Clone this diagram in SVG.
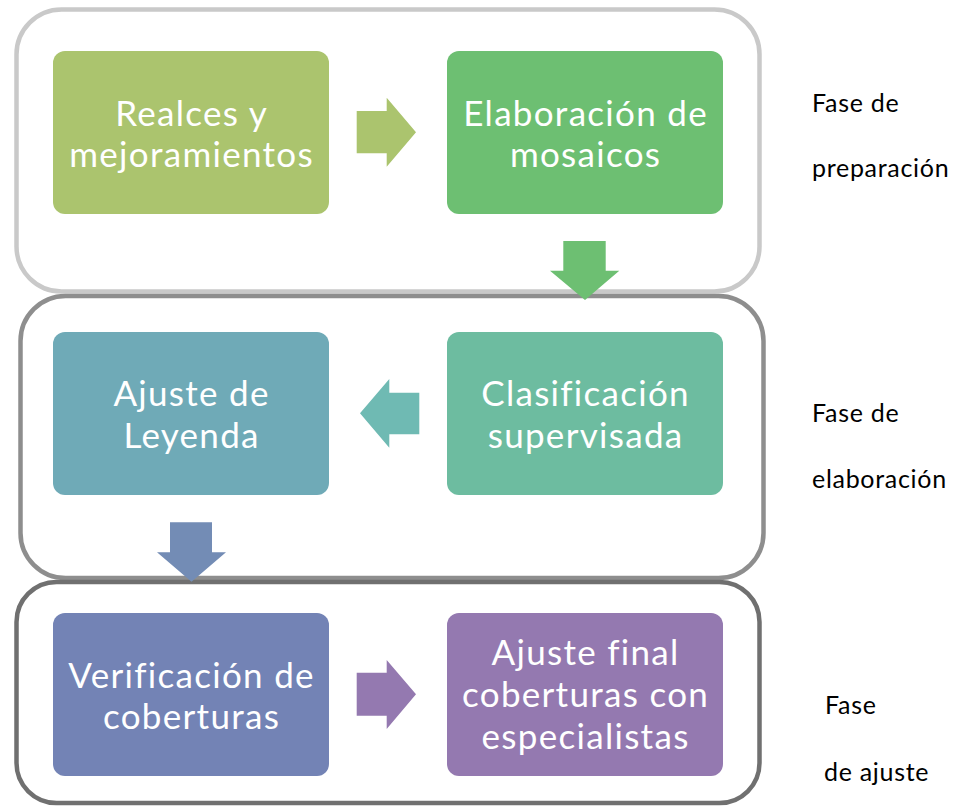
<svg xmlns="http://www.w3.org/2000/svg" width="955" height="806" viewBox="0 0 955 806">
<style>
.phase{fill:#ffffff;stroke-width:4.5}
.node{stroke:none}
.nt{font-family:Lato,"Open Sans",sans-serif;font-size:35px;letter-spacing:1.3px;fill:#ffffff;text-anchor:middle}
.lbl{font-family:Lato,"Open Sans",sans-serif;font-size:25px;letter-spacing:0.7px;fill:#000000}
</style>
<rect width="955" height="806" fill="#ffffff"/>
<g id="phases">
<rect id="phase-prep" class="phase" x="16.5" y="9.5" width="743" height="282" rx="45" stroke="#c9c9c9"/>
<rect id="phase-elab" class="phase" x="20.5" y="296" width="743" height="282" rx="45" stroke="#8e8e8e"/>
<rect id="phase-ajuste" class="phase" x="16.5" y="582" width="743" height="221" rx="40" stroke="#707070"/>
</g>
<g id="node-realces">
<rect class="node" x="53" y="51" width="276" height="163" rx="12" fill="#abc46e"/>
<text class="nt"><tspan x="191.6" y="126">Realces y</tspan><tspan x="191.6" y="167">mejoramientos</tspan></text>
</g>
<g id="node-mosaicos">
<rect class="node" x="447" y="51" width="276" height="163" rx="12" fill="#6dbf72"/>
<text class="nt"><tspan x="585.6" y="126">Elaboración de</tspan><tspan x="585.6" y="167">mosaicos</tspan></text>
</g>
<g id="node-leyenda">
<rect class="node" x="53" y="332" width="276" height="163" rx="12" fill="#6faab7"/>
<text class="nt"><tspan x="191.6" y="406">Ajuste de</tspan><tspan x="191.6" y="448">Leyenda</tspan></text>
</g>
<g id="node-clasificacion">
<rect class="node" x="447" y="332" width="276" height="163" rx="12" fill="#6dbca0"/>
<text class="nt"><tspan x="585.6" y="406">Clasificación</tspan><tspan x="585.6" y="448">supervisada</tspan></text>
</g>
<g id="node-verificacion">
<rect class="node" x="53" y="613" width="276" height="163" rx="12" fill="#7383b5"/>
<text class="nt"><tspan x="191.6" y="688">Verificación de</tspan><tspan x="191.6" y="729">coberturas</tspan></text>
</g>
<g id="node-final">
<rect class="node" x="447" y="613" width="276" height="163" rx="12" fill="#9479b0"/>
<text class="nt"><tspan x="585.6" y="665">Ajuste final</tspan><tspan x="585.6" y="707">coberturas con</tspan><tspan x="585.6" y="749">especialistas</tspan></text>
</g>
<g id="connectors">
<polygon points="356.7,111 386.7,111 386.7,97.7 416,132.3 386.7,166.7 386.7,153.3 356.7,153.3" fill="#abc46e"/>
<polygon points="563.3,241 605.7,241 605.7,270.7 619.3,270.7 585,300 550,270.7 563.3,270.7" fill="#6dbf72"/>
<polygon points="419.3,392.7 389.3,392.7 389.3,379 360,413.3 389.3,447.7 389.3,434.3 419.3,434.3" fill="#6fbab3"/>
<polygon points="170,522.3 212,522.3 212,552.3 226,552.3 191.5,581.7 157,552.3 170,552.3" fill="#738cb5"/>
<polygon points="356.7,672.7 386.7,672.7 386.7,660 416,694.3 386.7,729 386.7,715.7 356.7,715.7" fill="#9479b0"/>
</g>
<g id="labels">
<text class="lbl" x="812" y="112">Fase de</text>
<text class="lbl" x="812" y="177">preparación</text>
<text class="lbl" x="812" y="422">Fase de</text>
<text class="lbl" x="812" y="488">elaboración</text>
<text class="lbl" x="825" y="714">Fase</text>
<text class="lbl" x="824" y="781">de ajuste</text>
</g>
</svg>
